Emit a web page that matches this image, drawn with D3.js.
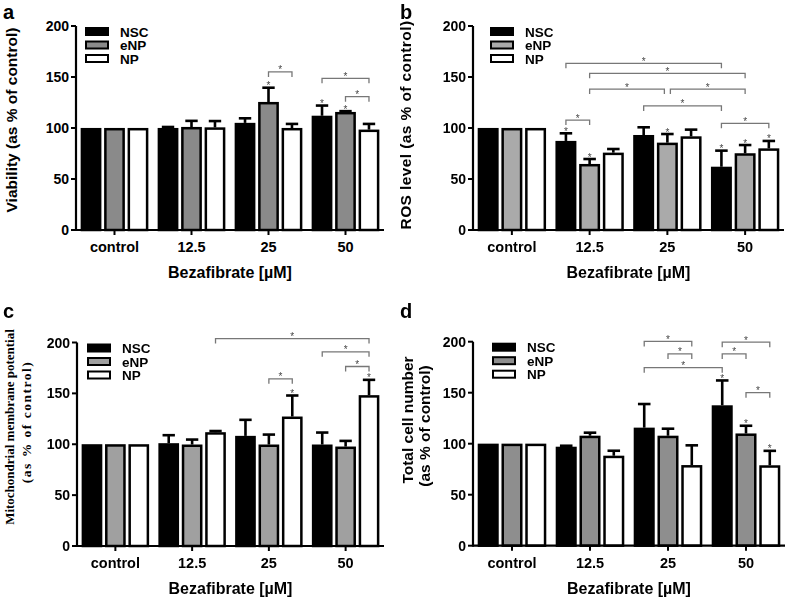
<!DOCTYPE html>
<html><head><meta charset="utf-8">
<script src="https://cdn.jsdelivr.net/npm/d3@7"></script>
<style>body{margin:0;background:#fff}.star{-webkit-font-smoothing:antialiased;will-change:transform}</style>
</head><body>
<svg id="chart" width="787" height="598"></svg>
<script>
// ---------- DATA ----------
const categories = ["control", "12.5", "25", "50"];
const series = ["NSC", "eNP", "NP"];
const yTicks = [0, 50, 100, 150, 200];

// Panel a — Viability (rows: NSC, eNP, NP; columns: categories)
const viabilityMean = [[100, 100, 105, 112], [100, 101, 125.5, 115.7], [100, 100.6, 100, 98.4]];
const viabilityErr  = [[0, 1, 4.5, 10], [0, 6, 14, 0.8], [0, 6.2, 4, 5.6]];
const viabilityStars = [[2, 1], [3, 0], [3, 1]];                 // [category, series]
const viabilityBrackets = [[2, 1, 2, 2, 155], [3, 0, 3, 2, 148.7], [3, 1, 3, 2, 130.7]]; // [cat1, ser1, cat2, ser2, level]

// Panel b — ROS level
const rosMean = [[100, 87.3, 93.1, 62], [100, 64.7, 85.6, 75.2], [100, 75.8, 91.8, 80]];
const rosErr  = [[0, 7.5, 7.6, 15.8], [0, 4.9, 8.5, 8.1], [0, 3.6, 6.6, 7.3]];
const rosStars = [[1, 0], [1, 1], [2, 1], [3, 0], [3, 1], [3, 2]];
const rosBrackets = [[1, 0, 3, 0, 163.4], [1, 1, 3, 1, 153.6], [1, 1, 2, 1, 138.2], [2, 1, 3, 1, 138.2],
                     [2, 0, 3, 0, 121.6], [1, 0, 1, 1, 107.8], [3, 0, 3, 2, 104.6]];

// Panel c — Mitochondrial membrane potential
const mmpMean = [[100, 101, 108.2, 99.7], [100, 99.7, 99.7, 97.7], [100, 111.8, 127.2, 148.2]];
const mmpErr  = [[0, 7.9, 15.8, 11.8], [0, 4.9, 9.8, 5.6], [0, 1.2, 20.7, 15.1]];
const mmpStars = [[2, 2], [3, 2]];
const mmpBrackets = [[1, 2, 3, 2, 203.9], [3, 0, 3, 2, 190.8], [3, 1, 3, 2, 176.4], [2, 1, 2, 2, 164.3]];

// Panel d — Total cell number
const cellMean = [[100, 97, 115.7, 137.6], [100, 107.8, 107.8, 110], [100, 88.2, 79, 78.8]];
const cellErr  = [[0, 1, 23.2, 24.4], [0, 3, 6.9, 7.6], [0, 4.9, 19.4, 14.2]];
const cellStars = [[3, 0], [3, 1], [3, 2]];
const cellBrackets = [[2, 0, 2, 2, 200.3], [2, 1, 2, 2, 188], [2, 0, 3, 0, 174.5],
                      [3, 0, 3, 2, 199.5], [3, 0, 3, 1, 188], [3, 1, 3, 2, 150]];

// ---------- DRAWING ----------
const svg = d3.select("#chart");
const SANS = "'Liberation Sans', Arial, Helvetica, sans-serif";
const SERIF = "'Liberation Serif', 'Times New Roman', serif";

function drawPanel(cfg) {
  const g = svg.append("g");
  const x0 = d3.scaleBand().domain(categories).range([cfg.left, cfg.right]);
  const x1 = d3.scaleBand().domain(series).range([0, x0.bandwidth()]).paddingInner(0.12).paddingOuter(0.2);
  const y = d3.scaleLinear().domain([0, 200]).range([cfg.y0, cfg.y200]);
  const fills = ["#000000", cfg.gray, "#ffffff"];
  const bw = x1.bandwidth();
  const cx = (c, s) => x0(categories[c]) + x1(series[s]) + bw / 2;

  // bars
  series.forEach((s, si) => {
    categories.forEach((c, ci) => {
      const v = cfg.mean[si][ci];
      const e = cfg.err[si][ci];
      const xl = x0(c) + x1(s);
      g.append("rect")
        .attr("x", xl + 1.2).attr("y", y(v) + 1.2)
        .attr("width", bw - 2.4).attr("height", y(0) - y(v) - 1.2)
        .attr("fill", fills[si]).attr("stroke", "#000").attr("stroke-width", 2.5);
      if (e > 0) {
        const xc = xl + bw / 2;
        g.append("line").attr("x1", xc).attr("x2", xc).attr("y1", y(v)).attr("y2", y(v + e))
          .attr("stroke", "#000").attr("stroke-width", 2.6);
        g.append("line").attr("x1", xc - bw * 0.3).attr("x2", xc + bw * 0.3).attr("y1", y(v + e)).attr("y2", y(v + e))
          .attr("stroke", "#000").attr("stroke-width", 2.6);
      }
    });
  });

  // axes
  g.append("line").attr("x1", cfg.left).attr("x2", cfg.left).attr("y1", y(0) + 1).attr("y2", y(200))
    .attr("stroke", "#000").attr("stroke-width", 2.2);
  g.append("line").attr("x1", cfg.left).attr("x2", cfg.right).attr("y1", y(0)).attr("y2", y(0))
    .attr("stroke", "#000").attr("stroke-width", 2.2);
  yTicks.forEach(t => {
    g.append("line").attr("x1", cfg.left - 5).attr("x2", cfg.left).attr("y1", y(t)).attr("y2", y(t))
      .attr("stroke", "#000").attr("stroke-width", 2);
    g.append("text").attr("x", cfg.left - 7).attr("y", y(t) + 5).attr("text-anchor", "end")
      .attr("font-family", SANS).attr("font-weight", "bold").attr("font-size", 14).text(t);
  });
  categories.forEach(c => {
    const xc = x0(c) + x0.bandwidth() / 2;
    g.append("line").attr("x1", xc).attr("x2", xc).attr("y1", y(0)).attr("y2", y(0) + 5)
      .attr("stroke", "#000").attr("stroke-width", 2);
    g.append("text").attr("x", xc).attr("y", y(0) + 22).attr("text-anchor", "middle")
      .attr("font-family", SANS).attr("font-weight", "bold").attr("font-size", 14.5).text(c);
  });
  g.append("text").attr("x", (cfg.left + cfg.right) / 2).attr("y", y(0) + 48).attr("text-anchor", "middle")
    .attr("font-family", SANS).attr("font-weight", "bold").attr("font-size", 16).text("Bezafibrate [\u00B5M]");

  // y title
  cfg.ytitle.forEach(line => {
    g.append("text").attr("transform", `translate(${line.x},${line.y}) rotate(-90)`)
      .attr("text-anchor", "middle").attr("font-family", cfg.serif ? SERIF : SANS)
      .attr("font-weight", "bold").attr("font-size", line.fs)
      .attr("letter-spacing", line.ls || 0).text(line.t);
  });

  // panel letter
  g.append("text").attr("x", cfg.letterX).attr("y", cfg.letterY).attr("font-family", SANS)
    .attr("font-weight", "bold").attr("font-size", 20).text(cfg.letter);

  // legend
  series.forEach((s, si) => {
    const ry = cfg.y200 + 2 + si * 13.5;
    g.append("rect").attr("x", cfg.legX).attr("y", ry).attr("width", 22).attr("height", 7)
      .attr("fill", fills[si]).attr("stroke", "#000").attr("stroke-width", 2);
    g.append("text").attr("x", cfg.legX + 34).attr("y", ry + 8.5).attr("font-family", SANS)
      .attr("font-weight", "bold").attr("font-size", 13.5).text(s);
  });

  const starG = g.append("g").attr("class", "star").attr("opacity", 0.99);

  // stars above bars
  cfg.stars.forEach(([c, s]) => {
    const top = y(cfg.mean[s][c] + cfg.err[s][c]);
    starG.append("text").attr("x", cx(c, s)).attr("y", top + 1.5).attr("text-anchor", "middle")
      .attr("font-family", SANS).attr("font-size", 10).attr("fill", "#444").text("*");
  });

  // significance brackets
  cfg.brackets.forEach((b, bi) => {
    let xa = cx(b[0], b[1]), xb = cx(b[2], b[3]);
    const ly = y(b[4]);
    cfg.brackets.forEach((o, oi) => {
      if (oi === bi || o[4] !== b[4]) return;
      if (o[0] === b[0] && o[1] === b[1] || o[2] === b[0] && o[3] === b[1]) xa += 3;
      if (o[0] === b[2] && o[1] === b[3] || o[2] === b[2] && o[3] === b[3]) xb -= 3;
    });
    g.append("path").attr("d", `M${xa},${ly + 5}V${ly}H${xb}V${ly + 5}`)
      .attr("fill", "none").attr("stroke", "#777").attr("stroke-width", 1.3);
    starG.append("text").attr("x", (xa + xb) / 2).attr("y", ly + 1.5).attr("text-anchor", "middle")
      .attr("font-family", SANS).attr("font-size", 10).attr("fill", "#444").text("*");
  });
}

drawPanel({ left: 76, right: 384, y0: 230, y200: 26, gray: "#8a8a8a", mean: viabilityMean, err: viabilityErr,
  stars: viabilityStars, brackets: viabilityBrackets, letter: "a", letterX: 3, letterY: 19,
  legX: 86, ytitle: [{ t: "Viability (as % of control)", x: 17, y: 120, fs: 15.5 }] });

drawPanel({ left: 473, right: 784, y0: 230, y200: 26, gray: "#aaaaaa", mean: rosMean, err: rosErr,
  stars: rosStars, brackets: rosBrackets, letter: "b", letterX: 400, letterY: 19,
  legX: 491, ytitle: [{ t: "ROS level (as % of control)", x: 411, y: 125, fs: 15.5, ls: 0.4 }] });

drawPanel({ left: 77, right: 384, y0: 546, y200: 342.5, gray: "#a0a0a0", mean: mmpMean, err: mmpErr,
  stars: mmpStars, brackets: mmpBrackets, letter: "c", letterX: 3, letterY: 318, serif: true,
  legX: 88, ytitle: [{ t: "Mitochondrial membrane potential", x: 14, y: 427, fs: 13 },
                     { t: "(as % of control)", x: 31, y: 422, fs: 13.5, ls: 1.5 }] });

drawPanel({ left: 473, right: 785, y0: 545.7, y200: 341.7, gray: "#8e8e8e", mean: cellMean, err: cellErr,
  stars: cellStars, brackets: cellBrackets, letter: "d", letterX: 400, letterY: 318,
  legX: 493, ytitle: [{ t: "Total cell number", x: 413, y: 420, fs: 15.5 },
                      { t: "(as % of control)", x: 430, y: 426, fs: 15.5 }] });
</script>
</body></html>
